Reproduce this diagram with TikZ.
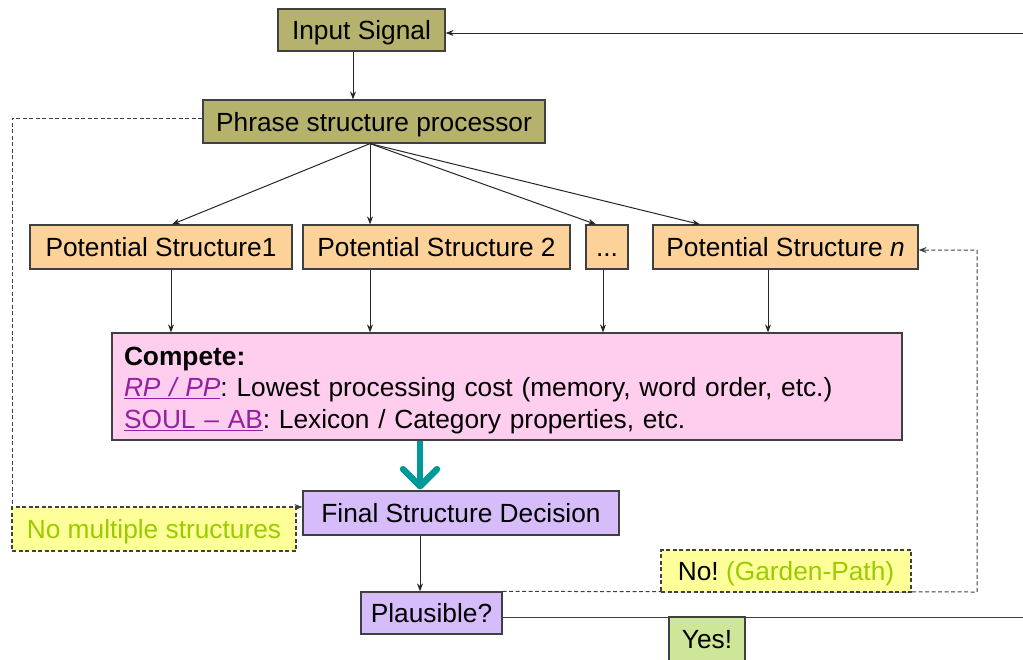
\documentclass[tikz,border=0pt]{standalone}
\usepackage{fontspec}
\setmainfont{Liberation Sans}
\usetikzlibrary{arrows.meta}
\frenchspacing

\definecolor{edge}{RGB}{64,64,64}
\definecolor{olivebox}{RGB}{180,178,108}
\definecolor{peach}{RGB}{252,210,152}
\definecolor{pinkbox}{RGB}{255,206,238}
\definecolor{lavender}{RGB}{214,188,250}
\definecolor{notefill}{RGB}{255,255,153}
\definecolor{yesfill}{RGB}{206,230,152}
\definecolor{ygreen}{RGB}{153,204,0}
\definecolor{linkcol}{RGB}{150,30,160}
\definecolor{tealarrow}{RGB}{0,153,153}

\begin{document}
\begin{tikzpicture}[x=1pt,y=-1pt,
  font=\fontsize{26.3}{31.5}\selectfont,
  frame/.style={draw=edge, line width=1.2pt, inner sep=0pt, minimum height=44pt},
  box/.style={frame, text height=19pt, text depth=0pt},
  notebox/.style={draw=edge, line width=1.1pt, dash pattern=on 4pt off 2.5pt,
    fill=notefill, inner sep=0pt, minimum height=44pt, text height=19pt, text depth=0pt},
  conn/.style={draw=black!85, line width=1pt, -{Stealth[length=8pt,width=6pt]}},
  plainline/.style={draw=black!75, line width=1pt},
  dashline/.style={draw=black!75, line width=1pt, dash pattern=on 4pt off 2.5pt},
  dasharrow/.style={dashline, -{Stealth[length=8pt,width=6pt]}},
  bigarrow/.style={draw=tealarrow, line width=6.5pt,
    -{Straight Barb[length=17pt,width=34pt,round]}}]

\useasboundingbox (0,0) rectangle (1023,659);

% main chain of boxes
\node[box, fill=olivebox, minimum width=167pt, minimum height=42pt] (input) at (361.5,30) {Input Signal};
\node[box, fill=olivebox, minimum width=342pt, minimum height=43pt] (psp) at (374,121.5) {Phrase structure processor};

\node[box, fill=peach, minimum width=262pt] (ps1) at (161,247) {Potential Structure1};
\node[box, fill=peach, minimum width=267pt] (ps2) at (436.5,247) {Potential Structure 2};
\node[box, fill=peach, minimum width=42pt] (psd) at (607,247) {...};
\node[box, fill=peach, minimum width=265pt] (psn) at (785.5,247) {Potential Structure \textit{n}};

\node[frame, fill=pinkbox, minimum width=790pt, minimum height=107pt,
      text width=766pt, inner xsep=12pt, align=left] (compete) at (507,386.5)
  {\rule{0pt}{26pt}\textbf{Compete:}\\
   \textcolor{linkcol}{\underline{\textit{RP / PP}}}: Lowest processing cost (memory, word order, etc.)\\
   \textcolor{linkcol}{\underline{SOUL – AB}}: Lexicon / Category properties, etc.};

\node[box, fill=lavender, minimum width=316pt] (final) at (461,513) {Final Structure Decision};
\node[box, fill=lavender, minimum width=141pt, minimum height=42pt] (plaus) at (431.5,613) {Plausible?};

% free ends and bends of the connectors
\coordinate (inR) at (1023,33);
\coordinate (exitR) at (1023,617);
\coordinate (gpR) at (977,592);
\coordinate (lp) at (12,118);
\coordinate (gpIn) at (918,250);
\coordinate (nmIn) at (303,507);

% input to processor
\draw[conn] ([xshift=-8.5pt]input.south) -- ([xshift=-21pt]psp.north);
\draw[conn] (inR) -- (input.east |- inR);

% fan out to the candidate structures
\coordinate (fan) at ([xshift=-4pt]psp.south);
\draw[conn] (fan) -- ([xshift=11pt]ps1.north);
\draw[conn] (fan) -- ([xshift=-66.5pt]ps2.north);
\draw[conn] (fan) -- ([xshift=-11pt]psd.north);
\draw[conn] (fan) -- ([xshift=-85.5pt]psn.north);

% candidates into the competition
\coordinate (d1) at ([xshift=10pt]ps1.south);
\coordinate (d2) at ([xshift=-66.5pt]ps2.south);
\coordinate (d3) at ([xshift=-4pt]psd.south);
\coordinate (d4) at ([xshift=-17.5pt]psn.south);
\draw[conn] (d1) -- (d1 |- compete.north);
\draw[conn] (d2) -- (d2 |- compete.north);
\draw[conn] (d3) -- (d3 |- compete.north);
\draw[conn] (d4) -- (d4 |- compete.north);

% competition result
\coordinate (t) at ([xshift=-41pt]final.north);
\draw[bigarrow] (t |- compete.south) -- ([yshift=1pt]t);

\coordinate (f) at ([xshift=-41pt]final.south);
\draw[conn] (f) -- (f |- plaus.north);

% outcomes of the plausibility check
\draw[plainline] (plaus.east |- exitR) -- (exitR);
\draw[dasharrow] (plaus.north east) -- (gpR) |- (psn.east |- gpIn);
\draw[dasharrow] (psp.west |- lp) -- (lp) |- (final.west |- nmIn);

% annotation boxes
\node[notebox, minimum width=284pt] (nomulti) at (154,529) {\textcolor{ygreen}{No multiple structures}};
\node[notebox, minimum width=250pt, minimum height=42pt] (nogp) at (786,571) {No! \textcolor{ygreen}{(Garden-Path)}};
\node[box, fill=yesfill, minimum width=76pt, minimum height=44pt] (yes) at (707,639) {Yes!};
\end{tikzpicture}
\end{document}
